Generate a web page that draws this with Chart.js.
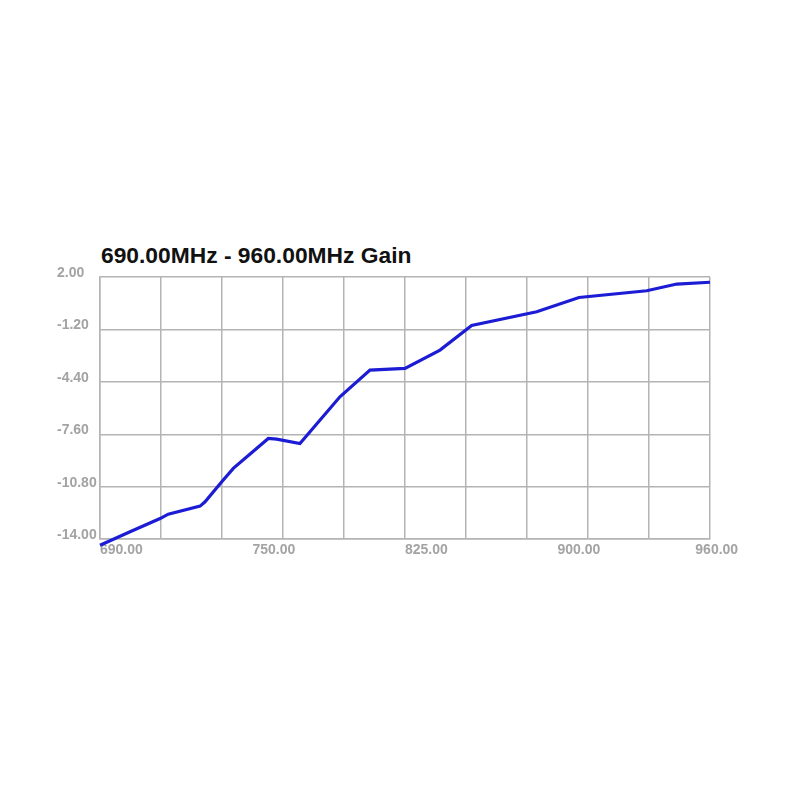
<!DOCTYPE html>
<html>
<head>
<meta charset="utf-8">
<title>Gain</title>
<script src="https://cdn.jsdelivr.net/npm/chart.js@4/dist/chart.umd.min.js"></script>
<style>
  html, body { margin: 0; padding: 0; background: #fff; }
  #wrap { position: relative; width: 800px; height: 800px; }
  #title {
    position: absolute; left: 101px; top: 241px;
    font: bold 22.8px "Liberation Sans", Arial, sans-serif;
    line-height: 28px; color: #111;
  }
  canvas { position: absolute; left: 0; top: 0; }
</style>
</head>
<body>
<div id="wrap">
  <div id="title">690.00MHz - 960.00MHz Gain</div>
  <canvas id="gainChart" width="800" height="800"></canvas>
</div>
<script>
// frequency (MHz) and gain (dB)
const freqs = [690, 703.3, 716.6, 720.2, 734.3, 736.5, 743.9, 749.0, 764.5, 768.2, 778.5,
               796.2, 809.5, 825.0, 840.5, 854.5, 883.3, 902.0, 932.0, 945.3, 960];
const gains = [-14.37, -13.55, -12.74, -12.47, -11.98, -11.72, -10.50, -9.68, -7.85, -7.89, -8.16,
               -5.31, -3.68, -3.58, -2.46, -0.96, -0.12, 0.75, 1.16, 1.57, 1.68];

const gridFreqs = [690, 717, 744, 771, 798, 825, 852, 879, 906, 933, 960];
const labelFreqs = [690, 757.5, 825, 892.5, 953.5];
const labelTexts = ["690.00", "750.00", "825.00", "900.00", "960.00"];
const gainTicks = [-14, -10.8, -7.6, -4.4, -1.2, 2];

const gridColor = "#b4b4b4";
const tickFont = { family: "'Liberation Sans', Arial, sans-serif", size: 14, weight: "bold" };

const ctx = document.getElementById("gainChart").getContext("2d");

new Chart(ctx, {
    type: "line",
    data: {
        datasets: [{
            data: freqs.map((f, i) => ({ x: f, y: gains[i] })),
            borderColor: "#1c1cd4",
            borderWidth: 3.2,
            pointRadius: 0,
            tension: 0,
            clip: false
        }]
    },
    options: {
        responsive: false,
        animation: false,
        layout: { padding: { left: 57, top: 277, right: 90, bottom: 238 } },
        plugins: { legend: { display: false }, tooltip: { enabled: false } },
        scales: {
            x: {
                type: "linear", min: 690, max: 960,
                afterBuildTicks: axis => { axis.ticks = gridFreqs.map(v => ({ value: v })); },
                grid: { color: gridColor, lineWidth: 1.5, drawTicks: false },
                border: { color: gridColor, width: 1.5 },
                ticks: { display: false }
            },
            xl: {
                type: "linear", position: "bottom", min: 690, max: 960,
                afterBuildTicks: axis => { axis.ticks = labelFreqs.map(v => ({ value: v })); },
                grid: { display: false, drawTicks: false },
                border: { display: false },
                ticks: {
                    align: "start", padding: 3, color: "#a3a3a3", font: tickFont,
                    autoSkip: false, maxRotation: 0,
                    callback: (v, i) => labelTexts[i]
                }
            },
            y: {
                min: -14, max: 2,
                afterBuildTicks: axis => { axis.ticks = gainTicks.map(v => ({ value: v })); },
                afterFit: axis => { axis.width = 43; },
                grid: { color: gridColor, lineWidth: 1.5, drawTicks: false },
                border: { color: gridColor, width: 1.5 },
                ticks: {
                    crossAlign: "far", labelOffset: -4, color: "#a3a3a3", font: tickFont,
                    callback: v => v.toFixed(2)
                }
            }
        }
    }
});
</script>
</body>
</html>
